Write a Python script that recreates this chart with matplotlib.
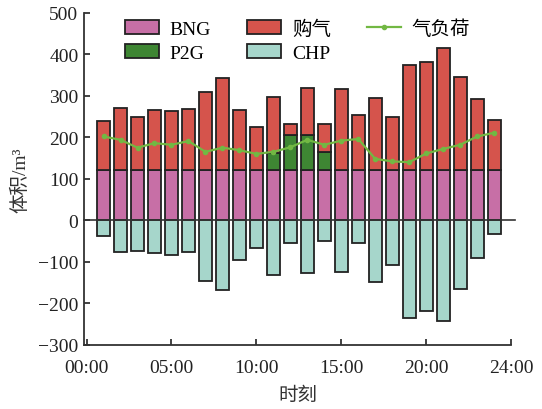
import matplotlib
matplotlib.use("Agg")
import matplotlib.pyplot as plt
import numpy as np
from matplotlib.patches import Patch
from matplotlib.lines import Line2D

plt.rcParams['font.family'] = ['Liberation Serif', 'Noto Sans CJK SC']

hours = list(range(1, 25))
bng = [120] * 24
p2g = [0, 0, 0, 0, 0, 0, 0, 0, 0, 0, 42, 86, 86, 44, 0, 0, 0, 0, 0, 0, 0, 0, 0, 0]
total_top = [239, 271, 250, 267, 263, 269, 309, 343, 265, 226, 297, 232,
             320, 231, 317, 253, 295, 250, 375, 381, 415, 346, 292, 242]
buy = [t - b - p for t, b, p in zip(total_top, bng, p2g)]
chp = [-39, -77, -74, -80, -83, -77, -147, -168, -97, -67, -133, -56,
       -127, -51, -126, -56, -148, -107, -236, -220, -242, -165, -90, -32]
load = [202, 194, 175, 186, 182, 191, 165, 175, 169, 160, 165, 176,
        194, 182, 192, 196, 148, 142, 140, 161, 172, 182, 202, 211]

xtick_pos = [0, 5, 10, 15, 20, 25]
xtick_labels = ['00:00', '05:00', '10:00', '15:00', '20:00', '24:00']
yticks = [-300, -200, -100, 0, 100, 200, 300, 400, 500]

c_bng = '#C76FA6'
c_buy = '#D5544C'
c_p2g = '#3E8633'
c_chp = '#A6D6CB'
c_line = '#72B843'
edge = '#222222'

fig = plt.figure(figsize=(5.42, 4.10), dpi=100)
ax = fig.add_axes([0.155, 0.157, 0.788, 0.809])

w = 0.78
lw = 1.3
x = np.array(hours)
p2g_arr = np.array(p2g)
ax.bar(x, bng, w, color=c_bng, edgecolor=edge, linewidth=lw, zorder=2)
mask = p2g_arr > 0
ax.bar(x[mask], p2g_arr[mask], w, bottom=np.array(bng)[mask], color=c_p2g,
       edgecolor=edge, linewidth=lw, zorder=2)
ax.bar(x, buy, w, bottom=np.array(bng) + p2g_arr, color=c_buy, edgecolor=edge,
       linewidth=lw, zorder=2)
ax.bar(x, chp, w, color=c_chp, edgecolor=edge, linewidth=lw, zorder=2)
ax.plot(x, load, color=c_line, lw=1.6, marker='o', ms=3, zorder=4)

ax.axhline(0, color='#333333', lw=1.2, zorder=3, xmax=1.01, clip_on=False)

ax.set_xlim(-0.15, 25)
ax.set_ylim(-300, 500)
ax.set_xticks(xtick_pos)
ax.set_xticklabels(xtick_labels)
ax.set_yticks(yticks)
ax.set_yticklabels([str(v).replace('-', '\u2212') for v in yticks])
ax.tick_params(direction='in', length=4, width=1.2, labelsize=14, colors='#222222')
ax.tick_params(axis='x', pad=10)
ax.tick_params(axis='y', pad=4)
for s in ['top', 'right']:
    ax.spines[s].set_visible(False)
for s in ['left', 'bottom']:
    ax.spines[s].set_linewidth(1.3)
    ax.spines[s].set_color('#333333')

ax.set_xlabel('时刻', fontsize=14, labelpad=8, color='#333333')
ax.set_ylabel('体积/m³', fontsize=14, labelpad=6, color='#333333')

handles = [
    Patch(facecolor=c_bng, edgecolor=edge, linewidth=lw, label='BNG'),
    Patch(facecolor=c_p2g, edgecolor=edge, linewidth=lw, label='P2G'),
    Patch(facecolor=c_buy, edgecolor=edge, linewidth=lw, label='购气'),
    Patch(facecolor=c_chp, edgecolor=edge, linewidth=lw, label='CHP'),
    Line2D([], [], color=c_line, lw=1.6, marker='o', ms=3, label='气负荷'),
]
ax.legend(handles=handles, ncol=3, loc='upper left', bbox_to_anchor=(0.078, 1.005),
          frameon=False, fontsize=14, handlelength=1.75, handleheight=0.72,
          handletextpad=0.55, columnspacing=1.85, labelspacing=0.35,
          borderaxespad=0.0)

fig.savefig('out.png', dpi=100)
